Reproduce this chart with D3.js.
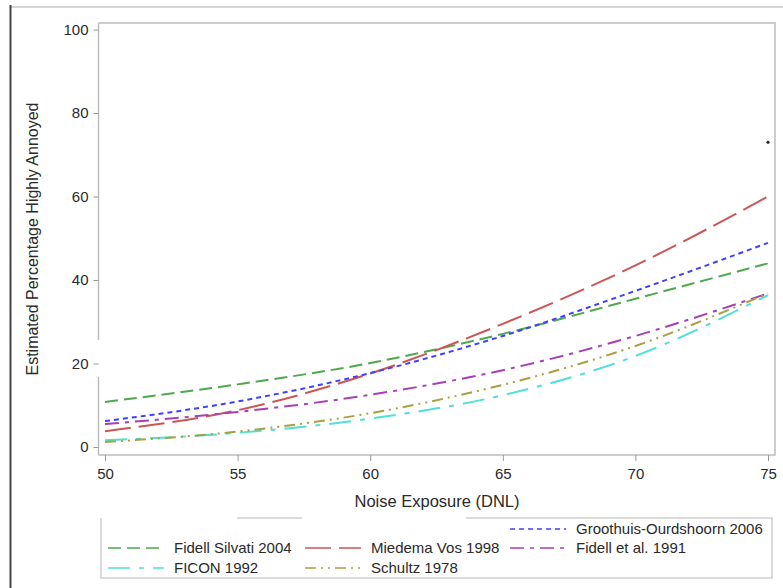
<!DOCTYPE html>
<html>
<head>
<meta charset="utf-8">
<script src="https://cdn.jsdelivr.net/npm/d3@7"></script>
<style>
  body { margin: 0; background: #fff; }
  text { font-family: "Liberation Sans", Arial, sans-serif; fill: #2a2a2a; }
</style>
</head>
<body>
<div id="chart"></div>
<script>
// exposure levels (DNL) and estimated % highly annoyed per study
const dnl = [50, 55, 60, 65, 70, 75];
const fidellSilvati2004 = [10.8, 15.0, 20.1, 27.1, 35.5, 44.0];
const miedemaVos1998 = [3.8, 8.8, 17.6, 29.5, 43.5, 60.0];
const groothuis2006 = [6.2, 10.9, 17.7, 26.6, 37.4, 48.9];
const fidell1991 = [5.5, 8.4, 12.5, 18.4, 26.6, 36.8];
const ficon1992 = [1.6, 3.4, 6.8, 12.4, 21.8, 36.4];
const schultz1978 = [1.2, 3.7, 8.1, 14.9, 24.2, 36.8];
const stray = [[75, 73]];
const xTicks = [50, 55, 60, 65, 70, 75];
const yTicks = [0, 20, 40, 60, 80, 100];

const series = [
  { name: "Fidell Silvati 2004", values: fidellSilvati2004, color: "#4ea84e", dash: "13,6" },
  { name: "Miedema Vos 1998", values: miedemaVos1998, color: "#cc5656", dash: "26,8" },
  { name: "Groothuis-Ourdshoorn 2006", values: groothuis2006, color: "#4040ff", dash: "5,4" },
  { name: "Fidell et al. 1991", values: fidell1991, color: "#a640b4", dash: "14,6,4,6" },
  { name: "FICON 1992", values: ficon1992, color: "#4fe0d6", dash: "22,9,5,9" },
  { name: "Schultz 1978", values: schultz1978, color: "#a8a040", dash: "11,5,2,5,2,5" }
];

const width = 783, height = 588;
const svg = d3.select("#chart").append("svg")
  .attr("width", width)
  .attr("height", height);

// outer frame edges from the scan
svg.append("line").attr("x1", 10).attr("x2", width).attr("y1", 7).attr("y2", 7)
  .attr("stroke", "#c8c8c8").attr("stroke-width", 1.5);
svg.append("line").attr("x1", 10.5).attr("x2", 10.5).attr("y1", 5).attr("y2", height)
  .attr("stroke", "#444").attr("stroke-width", 2);

const x = d3.scaleLinear().domain([50, 75]).range([105, 768]);
const y = d3.scaleLinear().domain([0, 100]).range([447, 29.5]);

// plot box
const boxL = 98.5, boxR = 775, boxT = 23, boxB = 455;
const frame = "#bdbdbd";
svg.append("path")
  .attr("d", `M${boxL},${boxT}H${boxR}V${boxB}H${boxL}`)
  .attr("fill", "none").attr("stroke", frame).attr("stroke-width", 1.5);
svg.append("line").attr("x1", boxL).attr("x2", boxL).attr("y1", boxT).attr("y2", 340)
  .attr("stroke", frame).attr("stroke-width", 1.5);
svg.append("line").attr("x1", boxL).attr("x2", boxL).attr("y1", 377).attr("y2", boxB)
  .attr("stroke", frame).attr("stroke-width", 1.5);

// y axis
const yAxis = svg.append("g").attr("transform", `translate(${boxL},0)`)
  .call(d3.axisLeft(y).tickValues(yTicks).tickSize(5).tickPadding(5));
yAxis.select(".domain").remove();
yAxis.selectAll("line").attr("stroke", "#999");
yAxis.selectAll("text").style("font-size", "15px").attr("fill", "#333");

// x axis
const xAxis = svg.append("g").attr("transform", `translate(0,${boxB})`)
  .call(d3.axisBottom(x).tickValues(xTicks).tickSize(6).tickPadding(7));
xAxis.select(".domain").remove();
xAxis.selectAll("line").attr("stroke", "#999");
xAxis.selectAll("text").style("font-size", "15px").attr("fill", "#333");

svg.append("text")
  .attr("x", 437).attr("y", 507)
  .attr("text-anchor", "middle")
  .style("font-size", "16.5px")
  .text("Noise Exposure (DNL)");

svg.append("text")
  .attr("transform", "translate(38,239) rotate(-90)")
  .attr("text-anchor", "middle")
  .style("font-size", "16px")
  .text("Estimated Percentage Highly Annoyed");

// curves
const line = d3.line()
  .x((d, i) => x(dnl[i]))
  .y(d => y(d))
  .curve(d3.curveMonotoneX);

svg.append("g").selectAll("path")
  .data(series)
  .join("path")
  .attr("d", d => line(d.values))
  .attr("fill", "none")
  .attr("stroke", d => d.color)
  .attr("stroke-width", 2)
  .attr("stroke-dasharray", d => d.dash);

svg.append("g").selectAll("circle")
  .data(stray)
  .join("circle")
  .attr("cx", d => x(d[0]))
  .attr("cy", d => y(d[1]))
  .attr("r", 1.6)
  .attr("fill", "#222");

// legend
const lg = svg.append("g");
lg.append("path")
  .attr("d", "M101,518V578H772V518H466")
  .attr("fill", "none").attr("stroke", "#cfcfcf").attr("stroke-width", 1.5);
lg.append("line").attr("x1", 237).attr("x2", 302).attr("y1", 518).attr("y2", 518)
  .attr("stroke", "#cfcfcf").attr("stroke-width", 1.5);

const legendPos = [
  { col: 510, row: 529 },
  { col: 108, row: 548 },
  { col: 305, row: 548 },
  { col: 510, row: 548 },
  { col: 108, row: 568 },
  { col: 305, row: 568 }
];
const order = [2, 0, 1, 3, 4, 5];
order.forEach((si, k) => {
  const s = series[si], p = legendPos[k];
  lg.append("line")
    .attr("x1", p.col).attr("x2", p.col + 56)
    .attr("y1", p.row).attr("y2", p.row)
    .attr("stroke", s.color).attr("stroke-width", 1.5)
    .attr("stroke-dasharray", s.dash);
  lg.append("text")
    .attr("x", p.col + 66).attr("y", p.row + 5)
    .style("font-size", "15px")
    .text(s.name);
});
</script>
</body>
</html>
